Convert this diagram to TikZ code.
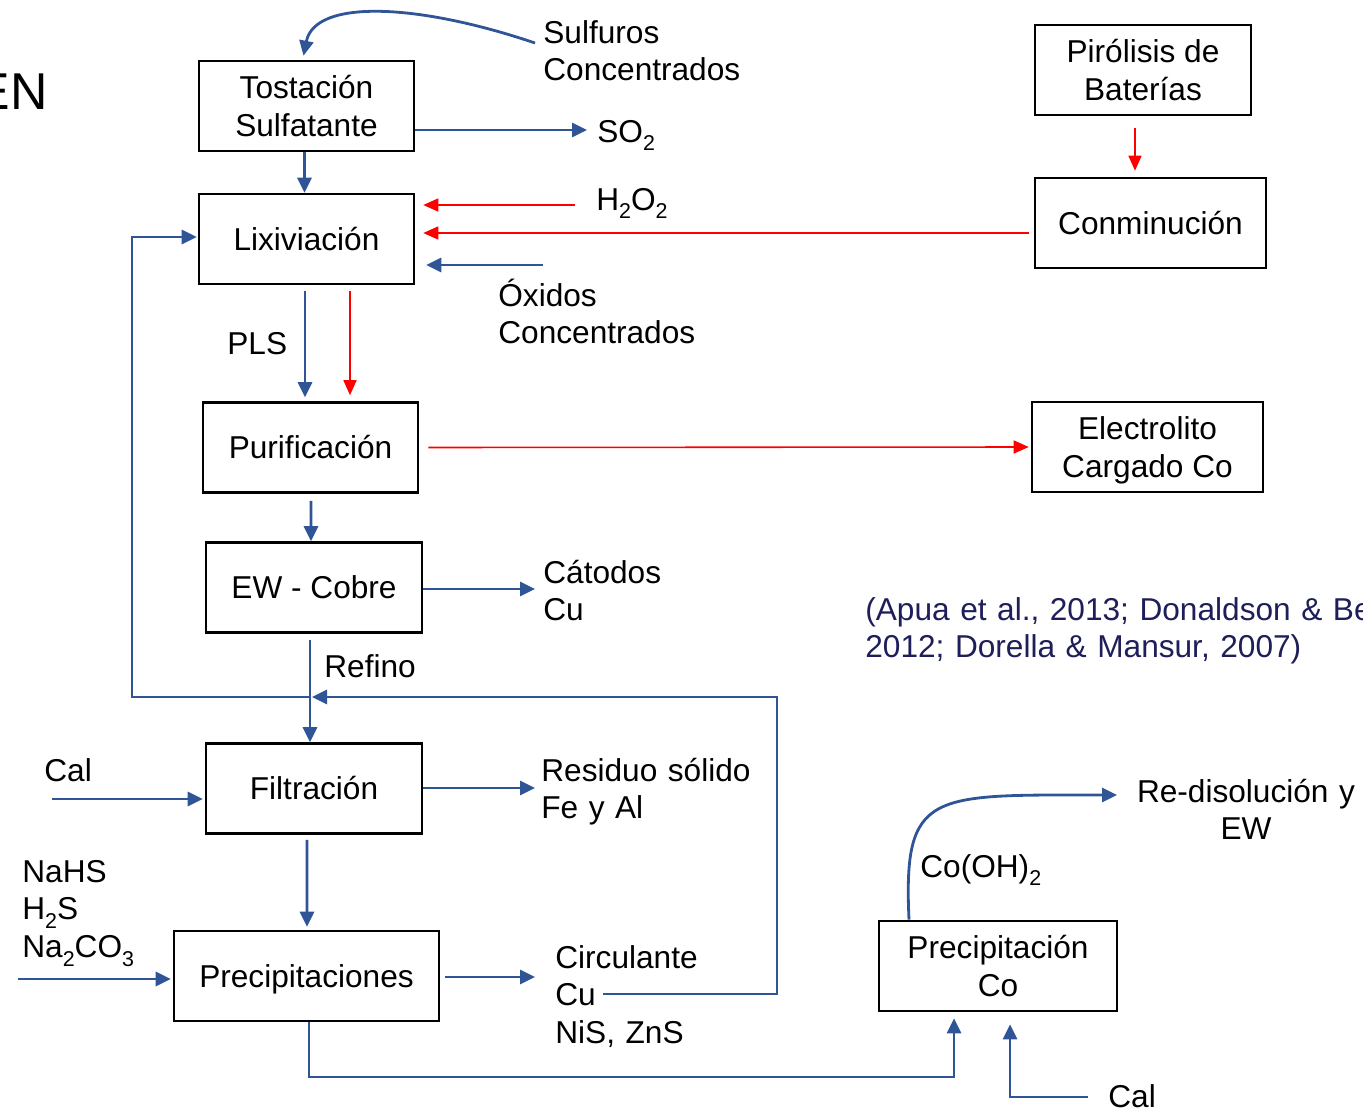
\documentclass[tikz,border=0pt]{standalone}
\usepackage{fontspec}
\setmainfont{Liberation Sans}
\usetikzlibrary{arrows.meta,calc}
\definecolor{flowblue}{RGB}{47,85,151}
\definecolor{citenavy}{RGB}{30,30,90}
\newcommand{\chsub}[1]{\raisebox{-0.27em}{\fontsize{12.2pt}{12pt}\selectfont #1}}
\newcommand{\nodepth}[1]{\raisebox{0pt}[\height][0pt]{#1}}

\begin{document}
\begin{tikzpicture}[x=0.02cm, y=-0.02cm,
    every node/.style={font=\fontsize{18pt}{21.6pt}\selectfont},
    proc/.style={draw=black, line width=1.5pt, minimum height=1.8cm, align=center, inner sep=0pt},
    lbl/.style={inner sep=0pt, text width=12cm, align=left, anchor=base west},
    flow/.style={draw=flowblue, line width=1.6pt, -{Triangle[length=0.3cm, width=0.28cm]}},
    redflow/.style={draw=red, line width=0.9pt, -{Triangle[length=0.3cm, width=0.26cm]}}]
    \useasboundingbox (0,0) rectangle (1363,1112);

    % Process boxes
    \node[proc, minimum width=4.3cm] (tostacion) at (306.5,106) {Tostación\\Sulfatante};
    \node[proc, minimum width=4.3cm] (lixiviacion) at (306.5,239) {Lixiviación};
    \node[proc, minimum width=4.3cm] (purificacion) at (310.5,447.5) {Purificación};
    \node[proc, minimum width=4.32cm] (ewcu) at (314,587.5) {EW - Cobre};
    \node[proc, minimum width=4.32cm] (filtracion) at (314,788.5) {Filtración};
    \node[proc, minimum width=5.3cm] (precip) at (306.5,976) {\nodepth{Precipitaciones}};
    \node[proc, minimum width=4.32cm] (pirolisis) at (1143,70) {Pirólisis de\\Baterías};
    \node[proc, minimum width=4.62cm] (conminucion) at (1150.5,223) {Conminución};
    \node[proc, minimum width=4.62cm] (electrolito) at (1147.5,447) {Electrolito\\\nodepth{Cargado Co}};
    \node[proc, minimum width=4.76cm] (precipco) at (998,966) {Precipitación\\Co};

    % Stream labels
    \node[anchor=base east, inner sep=0pt, font=\fontsize{29.5pt}{35pt}\selectfont] (titulo) at (48,109) {EN};
    \node[lbl] (sulfuros) at (543,43) {Sulfuros\\Concentrados};
    \node[lbl] (so2) at (597,142) {SO\chsub{2}};
    \node[lbl] (h2o2) at (596,210) {H\chsub{2}O\chsub{2}};
    \node[lbl] (oxidos) at (498,306) {Óxidos\\Concentrados};
    \node[lbl] (pls) at (227,354) {PLS};
    \node[lbl] (catodos) at (543,583) {Cátodos\\Cu};
    \node[lbl] (refino) at (324,677) {Refino};
    \node[lbl] (residuo) at (541,781) {Residuo sólido\\Fe y Al};
    \node[lbl] (circulante) at (555,968) {Circulante\\Cu\\NiS, ZnS};
    \node[lbl] (calfil) at (44,781) {Cal};
    \node[lbl] (reactivos) at (22,882) {NaHS\\H\chsub{2}S\\Na\chsub{2}CO\chsub{3}};
    \node[lbl] (calco) at (1108,1107) {Cal};
    \node[lbl] (cooh) at (920,877) {Co(OH)\chsub{2}};
    \node[lbl, align=center, anchor=base] (redis) at (1246,802) {Re-disolución y\\EW};
    \node[lbl, text=citenavy] (cita) at (865,620) {(Apua et al., 2013; Donaldson \& Be\\2012; Dorella \& Mansur, 2007)};

    % Free ends of the streams
    \coordinate (sulfstart) at (535,43);
    \coordinate (so2end) at (587,130);
    \coordinate (h2o2start) at (575,205);
    \coordinate (oxstart) at (543,265);
    \coordinate (catend) at (535,589);
    \coordinate (refjoin) at (310,697);
    \coordinate (recleft) at (132,697);
    \coordinate (circstart) at (603,994);
    \coordinate (circright) at (777,994);
    \coordinate (calstart) at (52,799);
    \coordinate (resend) at (535,788);
    \coordinate (reacstart) at (18,979);
    \coordinate (circend) at (535,977);
    \coordinate (botright) at (954,1077);
    \coordinate (cal2start) at (1088,1097);
    \coordinate (redisend) at (1117,795);

    % Copper line
    \draw[flow] (sulfstart) .. controls (420,4) and (315,-2) .. ($(tostacion.north)+(-3,-4)$);
    \draw[flow] (tostacion.east |- so2end) -- (so2end);
    \draw[flow] ($(tostacion.south)+(-2,0)$) -- ($(lixiviacion.north)+(-2,0)$);
    \draw[redflow] (h2o2start) -- ($(lixiviacion.east |- h2o2start)+(8,0)$);
    \draw[redflow] ($(conminucion.west)+(-5,10)$) -- ($(lixiviacion.east)+(8,-6)$);
    \draw[flow] (oxstart) -- ($(lixiviacion.east |- oxstart)+(11,0)$);
    \draw[flow] ($(lixiviacion.south)+(-1.5,6)$) -- ($(purificacion.north)+(-5.5,-4)$);
    \draw[redflow] ($(lixiviacion.south)+(43.5,6)$) -- ($(purificacion.north)+(39.5,-6)$);
    \draw[redflow] ($(pirolisis.south)+(-8,12)$) -- ($(conminucion.north)+(-15.5,-6)$);
    \draw[redflow] ($(purificacion.east)+(9,0)$) -- ($(electrolito.west)+(-2,0)$);
    \draw[flow] ($(purificacion.south)+(0.5,7)$) -- ($(ewcu.north)+(-3,0)$);
    \draw[flow] (ewcu.east |- catend) -- (catend);
    \draw[flow] ($(ewcu.south)+(-4,6)$) -- ($(filtracion.north)+(-4,0)$);
    \draw[flow] (refjoin) -- (recleft) |- ($(lixiviacion.west)+(-1,-2)$);
    \draw[flow] (circstart) -- (circright) |- ($(refjoin)+(2,0)$);

    % Impurity removal
    \draw[flow] (calstart) -- ($(filtracion.west |- calstart)+(-2,0)$);
    \draw[flow] (filtracion.east |- resend) -- (resend);
    \draw[flow] ($(filtracion.south)+(-7,5)$) -- ($(precip.north)+(0.5,-3)$);
    \draw[flow] (reacstart) -- ($(precip.west |- reacstart)+(-2,0)$);
    \draw[flow] ($(precip.east)+(5,1)$) -- (circend);

    % Cobalt line
    \draw[flow] ($(precip.south)+(2.5,0)$) |- (botright) -- ($(precipco.south)+(-44,6)$);
    \draw[flow] (cal2start) -| ($(precipco.south)+(12,12)$);
    \draw[flow] ($(precipco.north)+(-89,0)$) .. controls (903,790) and (930,795) .. (redisend);
\end{tikzpicture}
\end{document}
